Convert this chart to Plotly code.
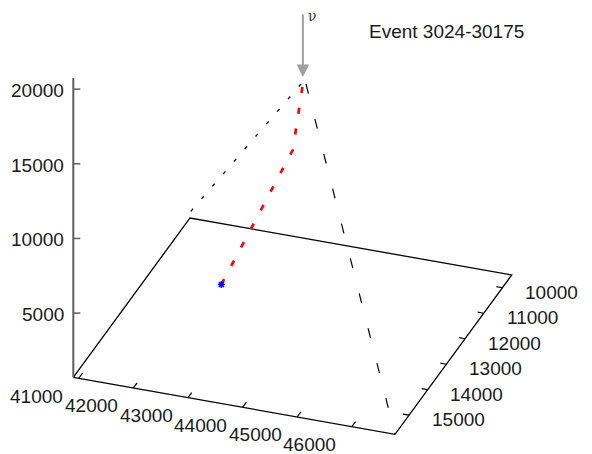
import numpy as np
import plotly.graph_objects as go

# Axis ranges of the detector volume (x, y in the floor plane, z vertical)
x_range = [40900, 46790]
y_range = [9500, 15750]
z_range = [700, 20750]

x_ticks = [41000, 42000, 43000, 44000, 45000, 46000]
y_ticks = [10000, 11000, 12000, 13000, 14000, 15000]
z_ticks = [5000, 10000, 15000, 20000]

# Reconstructed track: vertex -> bend -> entry point
track_x = [42960, 44470, 44560]
track_y = [13845, 14440, 14160]
track_z = [5000, 16000, 20000]

# Interaction vertex
vertex_x = [42960]
vertex_y = [13845]
vertex_z = [5000]

# Guide lines from the entry point down to the floor
guide_back_x = [44530, 40820]
guide_back_y = [14170, 9520]
guide_back_z = [20000, 700]
guide_front_x = [44610, 46790]
guide_front_y = [14140, 15750]
guide_front_z = [20000, 700]

# Neutrino entry point (arrow target)
entry_x, entry_y, entry_z = 44560, 14160, 20000

title_text = "Event 3024-30175"
nu_label = "\u03bd"

# ---- view: orthographic projection of the box onto the page ----
W, H = 592, 454
ORIGIN = (73.3, 377.3)   # page position of (x_min, y_max, z_min)
PX_X = (54.62, 9.68)     # page step per 1000 units of x
PX_Y = (-18.67, 25.49)   # page step per 1000 units of y
PX_Z = 14.93             # page rise per 1000 units of z


def project(x, y, z):
    x = np.asarray(x, float)
    y = np.asarray(y, float)
    z = np.asarray(z, float)
    dx = (x - x_range[0]) / 1000.0
    dy = (y - y_range[1]) / 1000.0
    dz = (z - z_range[0]) / 1000.0
    u = ORIGIN[0] + PX_X[0] * dx + PX_Y[0] * dy
    v = ORIGIN[1] + PX_X[1] * dx + PX_Y[1] * dy - PX_Z * dz
    return u, v


def segments(pairs):
    us, vs = [], []
    for (a, b) in pairs:
        us += [a[0], b[0], None]
        vs += [a[1], b[1], None]
    return us, vs


FONT = "Liberation Sans, Arial, sans-serif"
TICK_FONT = dict(family=FONT, size=19, color="#1a1a1a")
zf = z_range[0]

fig = go.Figure()

# floor outline
cx = [x_range[0], x_range[1], x_range[1], x_range[0], x_range[0]]
cy = [y_range[1], y_range[1], y_range[0], y_range[0], y_range[1]]
fu, fv = project(cx, cy, [zf] * 5)
fig.add_trace(go.Scatter(x=fu, y=fv, mode="lines",
                         line=dict(color="black", width=1.3), hoverinfo="skip"))

# x ticks along the front edge, pointing towards the back
pairs = []
for t in x_ticks:
    a = project(t, y_range[1], zf)
    b = project(t, y_range[1] - 200, zf)
    pairs.append(((float(a[0]), float(a[1])), (float(b[0]), float(b[1]))))
# y ticks along the right edge, pointing inwards
for t in y_ticks:
    a = project(x_range[1], t, zf)
    b = project(x_range[1] - 110, t, zf)
    pairs.append(((float(a[0]), float(a[1])), (float(b[0]), float(b[1]))))
tu, tv = segments(pairs)
fig.add_trace(go.Scatter(x=tu, y=tv, mode="lines",
                         line=dict(color="black", width=1.2), hoverinfo="skip"))

# vertical z axis at the front-left corner
zu, zv = project([x_range[0]] * 2, [y_range[1]] * 2, z_range)
fig.add_trace(go.Scatter(x=zu, y=zv, mode="lines",
                         line=dict(color="#5e5e5e", width=2), hoverinfo="skip"))
zp = []
for t in z_ticks:
    a = project(x_range[0], y_range[1], t)
    zp.append(((float(a[0]), float(a[1])), (float(a[0]) + 7, float(a[1]))))
ztu, ztv = segments(zp)
fig.add_trace(go.Scatter(x=ztu, y=ztv, mode="lines",
                         line=dict(color="#5e5e5e", width=1.5), hoverinfo="skip"))

# guide lines
gu, gv = project(guide_back_x, guide_back_y, guide_back_z)
fig.add_trace(go.Scatter(x=gu, y=gv, mode="lines",
                         line=dict(color="black", width=1.3, dash="3.5px,13px"),
                         hoverinfo="skip"))
gu, gv = project(guide_front_x, guide_front_y, guide_front_z)
fig.add_trace(go.Scatter(x=gu, y=gv, mode="lines",
                         line=dict(color="black", width=1.2, dash="10px,26px"),
                         hoverinfo="skip"))

# track
ku, kv = project(track_x, track_y, track_z)
fig.add_trace(go.Scatter(x=ku, y=kv, mode="lines",
                         line=dict(color="#ff0000", width=2.7, dash="6px,15px"),
                         hoverinfo="skip"))

# vertex
vu, vv = project(vertex_x, vertex_y, vertex_z)
fig.add_trace(go.Scatter(x=vu, y=vv, mode="markers",
                         marker=dict(symbol="asterisk-open", size=6, color="#0000ff",
                                     line=dict(color="#0000ff", width=1.5)),
                         hoverinfo="skip"))

annotations = []
for t in x_ticks:
    u, v = project(t, y_range[1], zf)
    annotations.append(dict(x=float(u), y=float(v), text=str(t), showarrow=False,
                            xanchor="center", yanchor="middle",
                            xshift=-42, yshift=-18, font=TICK_FONT))
for t in y_ticks:
    u, v = project(x_range[1], t, zf)
    annotations.append(dict(x=float(u), y=float(v), text=str(t), showarrow=False,
                            xanchor="center", yanchor="middle",
                            xshift=49, yshift=-4.7, font=TICK_FONT))
for t in z_ticks:
    u, v = project(x_range[0], y_range[1], t)
    annotations.append(dict(x=float(u), y=float(v), text=str(t), showarrow=False,
                            xanchor="right", yanchor="middle",
                            xshift=-7, yshift=-1.5, font=TICK_FONT))

# incoming neutrino arrow
eu, ev = project(entry_x, entry_y, entry_z)
annotations.append(dict(x=float(eu), y=float(ev), ax=0, ay=-71, axref="pixel",
                        ayref="pixel", text="", showarrow=True, arrowhead=2,
                        arrowsize=1.25, arrowwidth=2, arrowcolor="#a0a0a0",
                        standoff=7))
annotations.append(dict(x=float(eu), y=float(ev), text=nu_label, showarrow=False,
                        xanchor="center", yanchor="middle", xshift=9.5, yshift=68,
                        font=dict(family="DejaVu Serif, serif", size=14,
                                  color="#333333")))

annotations.append(dict(x=367 / W, y=1 - 31.7 / H, xref="paper", yref="paper",
                        text=title_text, showarrow=False, xanchor="left",
                        yanchor="middle", font=TICK_FONT))

fig.update_layout(
    width=W, height=H,
    margin=dict(l=0, r=0, t=0, b=0),
    paper_bgcolor="white", plot_bgcolor="white",
    showlegend=False,
    xaxis=dict(range=[0, W], visible=False, fixedrange=True),
    yaxis=dict(range=[H, 0], visible=False, fixedrange=True),
    annotations=annotations,
)

fig.write_html("out.html")
